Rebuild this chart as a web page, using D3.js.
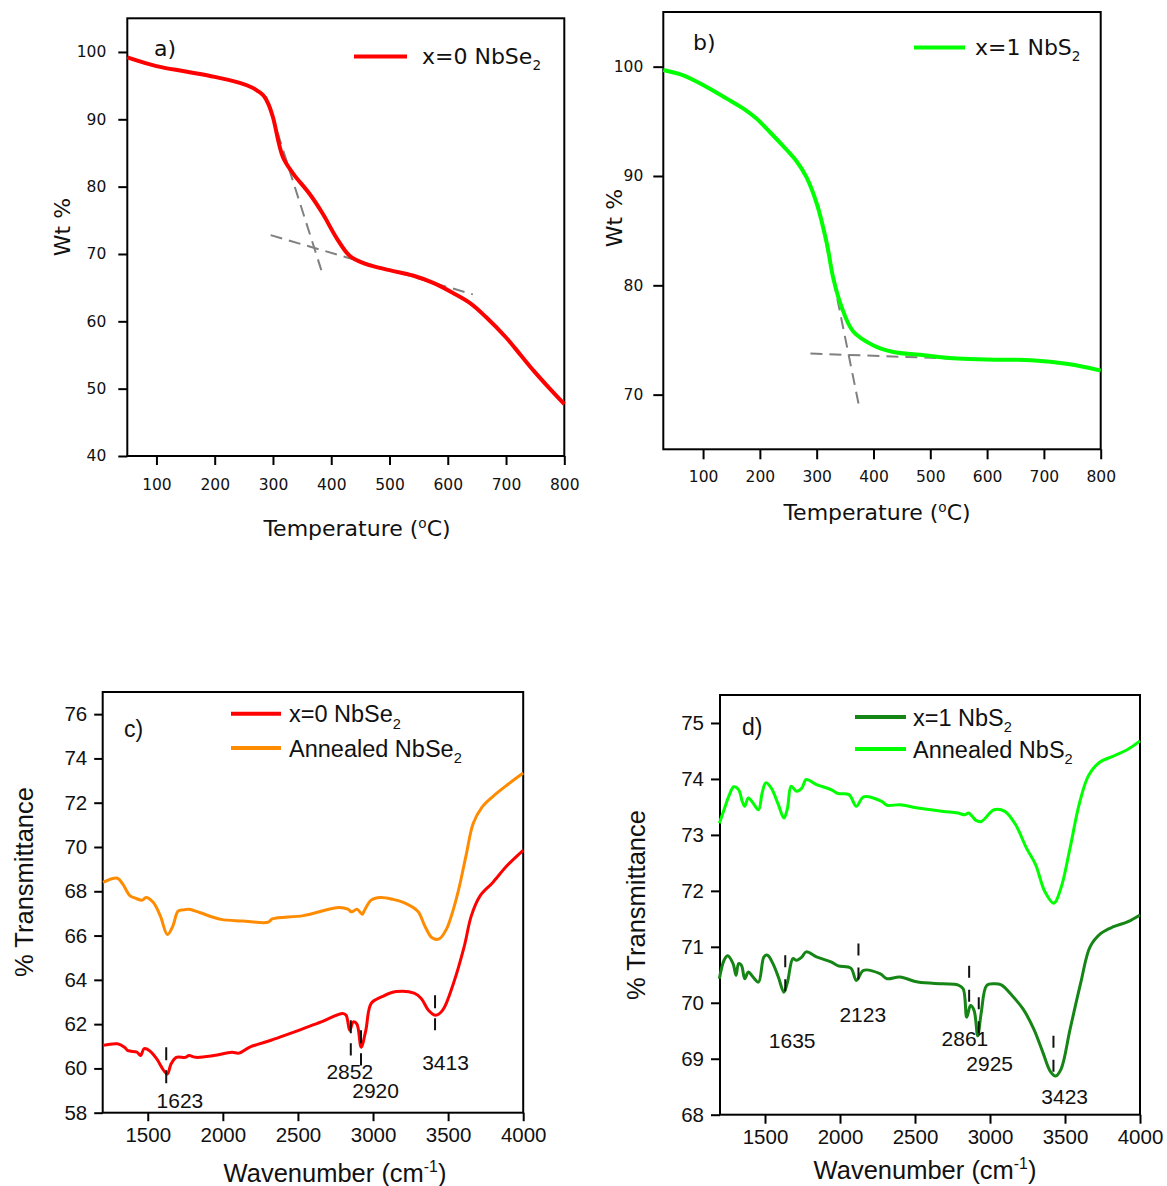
<!DOCTYPE html>
<html>
<head>
<meta charset="utf-8">
<script src="https://cdn.jsdelivr.net/npm/d3@7"></script>
<style>
  body { margin: 0; background: #fff; }
</style>
</head>
<body>
<div id="chart"></div>
<script>
// ---- Data ----
// a) TGA x=0 NbSe2
const tempA = [50, 100, 150, 200, 243, 262, 274, 284, 292, 300, 317, 335, 363, 386, 409, 432, 460, 500, 540, 575, 609, 640, 666, 700, 725, 748, 775, 800]
const wtA = [99.2, 97.9, 97.1, 96.3, 95.4, 94.8, 94.2, 93.5, 92.3, 90.3, 84.4, 81.9, 78.9, 75.9, 72.4, 69.7, 68.5, 67.6, 66.8, 65.7, 64.2, 62.6, 60.6, 57.6, 55.0, 52.6, 50.0, 47.7]
const tangentsA = [
  [[288, 93.4], [383, 67.6]],
  [[296, 72.8], [643, 64.0]]
]

// b) TGA x=1 NbS2
const tempB = [30, 63, 82, 108, 141, 173, 193, 218, 247, 264, 282, 300, 318, 329, 344, 364, 400, 435, 482, 549, 614, 678, 743, 800]
const wtB = [99.7, 99.25, 98.8, 98.1, 97.1, 96.1, 95.3, 94.0, 92.4, 91.4, 89.9, 87.5, 83.8, 80.7, 78.0, 75.8, 74.5, 73.9, 73.64, 73.3, 73.2, 73.15, 72.8, 72.2]
const tangentsB = [
  [[303, 87.3], [374, 69.1]],
  [[289, 73.76], [601, 73.18]]
]

// c) FTIR NbSe2
const wnSe = [1202, 1298, 1345, 1369, 1429, 1452, 1476, 1512, 1560, 1607, 1631, 1655, 1690, 1750, 1774, 1821, 1940, 2060, 2107, 2179, 2321, 2417, 2536, 2655, 2798, 2821, 2845, 2869, 2893, 2921, 2952, 2988, 3060, 3155, 3274, 3321, 3369, 3417, 3464, 3536, 3607, 3655, 3714, 3798, 3893, 4000]
const trSe = [61.04, 61.11, 60.96, 60.8, 60.73, 60.58, 60.89, 60.8, 60.43, 59.9, 59.75, 60.2, 60.5, 60.5, 60.58, 60.5, 60.58, 60.73, 60.69, 60.96, 61.27, 61.5, 61.8, 62.1, 62.48, 62.4, 61.72, 62.1, 62.0, 60.96, 61.72, 62.94, 63.24, 63.47, 63.4, 63.16, 62.63, 62.4, 62.63, 63.85, 65.5, 66.9, 67.8, 68.4, 69.16, 69.85]
const wnSeAnn = [1202, 1298, 1333, 1381, 1417, 1464, 1488, 1536, 1583, 1631, 1667, 1702, 1738, 1774, 1845, 1988, 2131, 2300, 2330, 2536, 2774, 2833, 2857, 2893, 2929, 2940, 2988, 3048, 3131, 3202, 3298, 3345, 3393, 3440, 3488, 3560, 3619, 3667, 3726, 3798, 3893, 4000]
const trSeAnn = [68.4, 68.59, 68.33, 67.8, 67.69, 67.6, 67.72, 67.5, 66.9, 66.05, 66.43, 67.1, 67.16, 67.19, 67.04, 66.73, 66.66, 66.6, 66.75, 66.9, 67.27, 67.19, 67.07, 67.19, 66.96, 67.1, 67.6, 67.72, 67.64, 67.5, 67.1, 66.43, 65.9, 65.85, 66.28, 67.8, 69.6, 71.06, 71.8, 72.28, 72.8, 73.34]
const peaksC = [1623, 2852, 2920, 3413]
const peakTopC = [60.96, 62.18, 61.72, 63.3]
const peakBottomC = [59.32, 60.58, 60.13, 61.72]
const peakLabelXC = [1714, 2845, 3017, 3483]
const peakLabelYC = [58.2, 59.5, 58.66, 59.93]

// d) FTIR NbS2
const wnS = [1196, 1227, 1251, 1287, 1307, 1324, 1343, 1365, 1389, 1420, 1457, 1493, 1517, 1553, 1589, 1626, 1650, 1686, 1710, 1746, 1775, 1843, 1940, 1988, 2072, 2109, 2157, 2266, 2314, 2399, 2519, 2688, 2785, 2821, 2845, 2870, 2894, 2918, 2942, 2978, 3027, 3075, 3147, 3220, 3292, 3353, 3401, 3437, 3473, 3534, 3606, 3667, 3739, 3824, 3920, 4000]
const trS = [70.43, 70.76, 70.84, 70.70, 70.49, 70.70, 70.67, 70.43, 70.55, 70.46, 70.37, 70.82, 70.85, 70.7, 70.46, 70.19, 70.37, 70.79, 70.76, 70.82, 70.91, 70.82, 70.73, 70.66, 70.62, 70.4, 70.58, 70.52, 70.43, 70.46, 70.37, 70.34, 70.32, 70.25, 69.74, 69.95, 69.86, 69.41, 69.83, 70.31, 70.34, 70.32, 70.13, 69.89, 69.53, 69.11, 68.78, 68.69, 68.81, 69.53, 70.37, 71.0, 71.24, 71.36, 71.45, 71.57]
const wnSAnn = [1196, 1227, 1263, 1292, 1324, 1348, 1365, 1389, 1420, 1457, 1481, 1505, 1541, 1589, 1626, 1650, 1674, 1710, 1746, 1775, 1843, 1940, 1988, 2060, 2109, 2157, 2278, 2314, 2399, 2519, 2688, 2785, 2833, 2857, 2882, 2906, 2942, 3027, 3099, 3171, 3244, 3304, 3365, 3425, 3473, 3534, 3594, 3655, 3727, 3824, 3920, 4000]
const trSAnn = [73.21, 73.45, 73.72, 73.86, 73.81, 73.6, 73.51, 73.66, 73.57, 73.45, 73.75, 73.93, 73.84, 73.54, 73.3, 73.48, 73.87, 73.78, 73.84, 73.99, 73.9, 73.81, 73.74, 73.72, 73.51, 73.68, 73.6, 73.53, 73.54, 73.48, 73.42, 73.39, 73.36, 73.39, 73.33, 73.26, 73.24, 73.45, 73.42, 73.18, 72.76, 72.47, 71.99, 71.78, 72.05, 72.77, 73.54, 74.05, 74.29, 74.41, 74.53, 74.68]
const peaksD = [1635, 2123, 2861, 2925, 3423]
const peakTopD = [70.85, 71.06, 70.66, 70.1, 69.41]
const peakBottomD = [70.19, 70.34, 69.89, 69.41, 68.72]
const peakLabelXD = [1681, 2152, 2833, 2998, 3498]
const peakLabelYD = [69.2, 69.65, 69.23, 68.78, 68.2]

// ---- Drawing ----
const svg = d3.select('#chart')
  .append('svg')
  .attr('width', 1167)
  .attr('height', 1186)

const verdana = '"DejaVu Sans", Verdana, sans-serif'
const arial = '"Liberation Sans", Arial, sans-serif'

function makePanel(p) {
  const xScale = d3.scaleLinear().domain(p.xDomain).range([p.left, p.right])
  const yScale = d3.scaleLinear().domain(p.yDomain).range([p.bottom, p.top])
  const g = svg.append('g')

  const xAxis = d3.axisBottom(xScale)
    .tickValues(p.xTicks)
    .tickFormat(d3.format('d'))
    .tickSize(p.tick)
    .tickSizeOuter(0)
    .tickPadding(p.xPad)

  const yAxis = d3.axisLeft(yScale)
    .tickValues(p.yTicks)
    .tickFormat(d3.format('d'))
    .tickSize(p.tick)
    .tickSizeOuter(0)
    .tickPadding(p.yPad)

  const xg = g.append('g')
    .attr('transform', `translate(0, ${p.bottom})`)
    .call(xAxis)
  const yg = g.append('g')
    .attr('transform', `translate(${p.left}, 0)`)
    .call(yAxis)

  ;[xg, yg].forEach(a => {
    a.attr('font-family', p.font).attr('font-size', p.tickFont)
    a.select('.domain').remove()
    a.selectAll('line').attr('stroke', '#000').attr('stroke-width', 2)
    a.selectAll('text').attr('fill', '#111')
  })

  g.append('rect')
    .attr('x', p.left)
    .attr('y', p.top)
    .attr('width', p.right - p.left)
    .attr('height', p.bottom - p.top)
    .attr('fill', 'none')
    .attr('stroke', '#000')
    .attr('stroke-width', 2)

  return { g, xScale, yScale }
}

function drawLine(panel, xs, ys, color, width, curve) {
  const pts = xs.map((v, i) => [v, ys[i]])
  panel.g.append('path')
    .datum(pts)
    .attr('fill', 'none')
    .attr('stroke', color)
    .attr('stroke-width', width)
    .attr('stroke-linejoin', 'round')
    .attr('d', d3.line()
      .x(d => panel.xScale(d[0]))
      .y(d => panel.yScale(d[1]))
      .curve(curve))
}

function subText(g, x, y, main, sub, font, size) {
  const t = g.append('text')
    .attr('x', x).attr('y', y)
    .attr('font-family', font).attr('font-size', size)
    .attr('fill', '#111')
  t.append('tspan').text(main)
  t.append('tspan').attr('font-size', size * 0.62).attr('dy', size * 0.28).text(sub)
  return t
}

function supTitle(g, x, y, main, sup, tail, font, size, rotate) {
  const t = g.append('text')
    .attr('text-anchor', 'middle')
    .attr('font-family', font).attr('font-size', size)
    .attr('fill', '#111')
    .attr('transform', rotate ? `translate(${x}, ${y}) rotate(-90)` : `translate(${x}, ${y})`)
  t.append('tspan').text(main)
  if (sup) {
    t.append('tspan').attr('font-size', size * 0.62).attr('dy', -size * 0.38).text(sup)
    t.append('tspan').attr('dy', size * 0.38).text(tail)
  }
  return t
}

const smooth = d3.curveCatmullRom.alpha(0.5)

// Panel a
const pa = makePanel({
  left: 127.3, right: 564.3, top: 18.3, bottom: 456,
  xDomain: [50, 800], yDomain: [40, 105],
  xTicks: d3.range(100, 801, 100), yTicks: d3.range(40, 101, 10),
  tick: 9, xPad: 14, yPad: 12, font: verdana, tickFont: 15.5
})
tangentsA.forEach(seg => {
  pa.g.append('line')
    .attr('x1', pa.xScale(seg[0][0])).attr('y1', pa.yScale(seg[0][1]))
    .attr('x2', pa.xScale(seg[1][0])).attr('y2', pa.yScale(seg[1][1]))
    .attr('stroke', '#808080').attr('stroke-width', 2).attr('stroke-dasharray', '12,7')
})
drawLine(pa, tempA, wtA, '#ff0000', 4, smooth)
pa.g.append('line').attr('x1', 354).attr('x2', 407).attr('y1', 56.5).attr('y2', 56.5)
  .attr('stroke', '#ff0000').attr('stroke-width', 4)
subText(pa.g, 422, 64, 'x=0 NbSe', '2', verdana, 22)
pa.g.append('text').attr('x', 154).attr('y', 56).attr('font-family', verdana).attr('font-size', 22).attr('fill', '#111').text('a)')
supTitle(pa.g, 357, 536, 'Temperature (', 'o', 'C)', verdana, 22, false)
supTitle(pa.g, 70, 227, 'Wt %', null, null, verdana, 22, true)

// Panel b
const pb = makePanel({
  left: 663.3, right: 1100.7, top: 12, bottom: 449.3,
  xDomain: [30, 800], yDomain: [65, 105],
  xTicks: d3.range(100, 801, 100), yTicks: d3.range(70, 101, 10),
  tick: 10, xPad: 12, yPad: 10, font: verdana, tickFont: 15.5
})
tangentsB.forEach(seg => {
  pb.g.append('line')
    .attr('x1', pb.xScale(seg[0][0])).attr('y1', pb.yScale(seg[0][1]))
    .attr('x2', pb.xScale(seg[1][0])).attr('y2', pb.yScale(seg[1][1]))
    .attr('stroke', '#808080').attr('stroke-width', 2).attr('stroke-dasharray', '12,7')
})
drawLine(pb, tempB, wtB, '#00ff00', 4, smooth)
pb.g.append('line').attr('x1', 914).attr('x2', 965).attr('y1', 47.5).attr('y2', 47.5)
  .attr('stroke', '#00ff00').attr('stroke-width', 4)
subText(pb.g, 975, 55, 'x=1 NbS', '2', verdana, 22)
pb.g.append('text').attr('x', 693).attr('y', 50).attr('font-family', verdana).attr('font-size', 22).attr('fill', '#111').text('b)')
supTitle(pb.g, 877, 520, 'Temperature (', 'o', 'C)', verdana, 22, false)
supTitle(pb.g, 622, 218, 'Wt %', null, null, verdana, 22, true)

// Panel c
const pc = makePanel({
  left: 102.7, right: 523.2, top: 692, bottom: 1112.7,
  xDomain: [1200, 4000], yDomain: [58, 77],
  xTicks: d3.range(1500, 4001, 500), yTicks: d3.range(58, 77, 2),
  tick: 8.5, xPad: 6, yPad: 7, font: arial, tickFont: 20.5
})
drawLine(pc, wnSeAnn, trSeAnn, '#ff8c00', 3, smooth)
drawLine(pc, wnSe, trSe, '#ff0000', 3, smooth)
peaksC.forEach((v, i) => {
  pc.g.append('line')
    .attr('x1', pc.xScale(v)).attr('x2', pc.xScale(v))
    .attr('y1', pc.yScale(peakTopC[i])).attr('y2', pc.yScale(peakBottomC[i]))
    .attr('stroke', '#111').attr('stroke-width', 2).attr('stroke-dasharray', '13,10')
  pc.g.append('text')
    .attr('x', pc.xScale(peakLabelXC[i])).attr('y', pc.yScale(peakLabelYC[i]))
    .attr('text-anchor', 'middle').attr('font-family', arial).attr('font-size', 21).attr('fill', '#111')
    .text(v)
})
pc.g.append('line').attr('x1', 231).attr('x2', 281).attr('y1', 713.7).attr('y2', 713.7)
  .attr('stroke', '#ff0000').attr('stroke-width', 4)
pc.g.append('line').attr('x1', 231).attr('x2', 281).attr('y1', 748).attr('y2', 748)
  .attr('stroke', '#ff8c00').attr('stroke-width', 4)
subText(pc.g, 289, 722, 'x=0 NbSe', '2', arial, 23.5)
subText(pc.g, 289, 756.5, 'Annealed NbSe', '2', arial, 23.5)
pc.g.append('text').attr('x', 124).attr('y', 737).attr('font-family', arial).attr('font-size', 23).attr('fill', '#111').text('c)')
supTitle(pc.g, 335, 1182, 'Wavenumber (cm', '-1', ')', arial, 25.5, false)
supTitle(pc.g, 33, 882, '% Transmittance', null, null, arial, 25.5, true)

// Panel d
const pd = makePanel({
  left: 720, right: 1140, top: 695, bottom: 1114.7,
  xDomain: [1200, 4000], yDomain: [68, 75.5],
  xTicks: d3.range(1500, 4001, 500), yTicks: d3.range(68, 76, 1),
  tick: 9, xPad: 6, yPad: 7, font: arial, tickFont: 20.5
})
drawLine(pd, wnSAnn, trSAnn, '#00ff00', 3, smooth)
drawLine(pd, wnS, trS, '#158515', 3, smooth)
peaksD.forEach((v, i) => {
  pd.g.append('line')
    .attr('x1', pd.xScale(v)).attr('x2', pd.xScale(v))
    .attr('y1', pd.yScale(peakTopD[i])).attr('y2', pd.yScale(peakBottomD[i]))
    .attr('stroke', '#111').attr('stroke-width', 2).attr('stroke-dasharray', '12,12')
  pd.g.append('text')
    .attr('x', pd.xScale(peakLabelXD[i])).attr('y', pd.yScale(peakLabelYD[i]))
    .attr('text-anchor', 'middle').attr('font-family', arial).attr('font-size', 21).attr('fill', '#111')
    .text(v)
})
pd.g.append('line').attr('x1', 855).attr('x2', 906).attr('y1', 717).attr('y2', 717)
  .attr('stroke', '#158515').attr('stroke-width', 4)
pd.g.append('line').attr('x1', 855).attr('x2', 906).attr('y1', 749).attr('y2', 749)
  .attr('stroke', '#00ff00').attr('stroke-width', 4)
subText(pd.g, 913, 725.5, 'x=1 NbS', '2', arial, 23.5)
subText(pd.g, 913, 757.5, 'Annealed NbS', '2', arial, 23.5)
pd.g.append('text').attr('x', 742).attr('y', 735).attr('font-family', arial).attr('font-size', 23).attr('fill', '#111').text('d)')
supTitle(pd.g, 925, 1179, 'Wavenumber (cm', '-1', ')', arial, 25.5, false)
supTitle(pd.g, 645, 905, '% Transmittance', null, null, arial, 25.5, true)
</script>
</body>
</html>
